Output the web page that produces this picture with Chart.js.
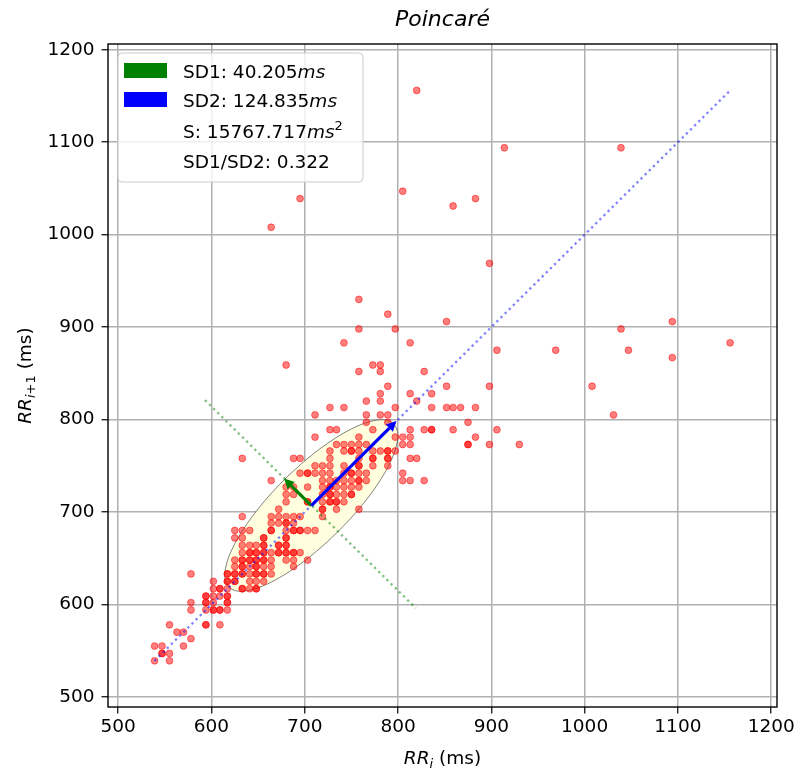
<!DOCTYPE html>
<html><head><meta charset="utf-8">
<script src="https://cdn.jsdelivr.net/npm/chart.js@4.4.1/dist/chart.umd.min.js"></script>
<style>html,body{margin:0;padding:0;background:#fff}#wrap{width:798px;height:770px}</style>
</head><body><div id="wrap"><canvas id="c" width="798" height="770"></canvas></div>
<script>
// RR_{i+1} value of each row of points (ms)
const rrNextRows = [1156,1094,1047,1039,1031,1008,969,930,914,906,898,883,875,867,859,852,836,828,820,813,805,797,789,781,773,766,758,750,742,734,727,719,711,703,695,688,680,672,664,656,648,641,633,625,617,609,602,594,578,570,563,555,547,539];
// RR_i values of the points found on each row (ms)
const rrCurrRows = [
 [820],
 [914,1039],
 [805],
 [695,883],
 [859],
 [664],
 [898],
 [758],
 [789],
 [852,1094],
 [758,797,1039],
 [742,813,1156],
 [906,969,1047],
 [1094],
 [680,773,781],
 [758,781,828],
 [789,852,898,1008],
 [781,813,836],
 [766,781,820],
 [727,742,797,836,852,859,867,883],
 [711,766,781,789,1031],
 [766,789,875],
 [727,734,773,813,828,836,836,859,906],
 [711,758,797,805,813,883],
 [734,742,750,758,766,805,813,875,875,898,930],
 [727,742,750,750,758,773,781,789,789,797],
 [633,688,695,727,758,773,773,789,789,813,820],
 [711,719,727,742,758,758,773,789],
 [695,703,703,711,719,727,742,750,750,758,766,805],
 [664,719,727,734,742,750,758,758,766,805,813,828],
 [680,688,703,719,727,727,734,742,750,758],
 [680,688,719,727,727,734,742,750,750],
 [680,703,703,719,727,727,734,734,742],
 [672,719,719,734,758],
 [633,664,672,680,688,695,719],
 [664,672,680,680,688],
 [625,633,641,664,664,680,688,688,695,695,703,711],
 [625,633,656,656,680,680],
 [633,641,648,656,656,672,672,680,680],
 [633,641,641,648,648,656,656,664,672,672,680,680,688,688,695],
 [625,633,633,641,641,648,648,656,656,664,680,688,703],
 [625,633,633,641,648,648,656,664,688],
 [578,617,617,625,625,633,633,641,648,648,656,656,664],
 [602,617,617,625,625,641,648,656],
 [602,609,609,617,633,633,641,648,648],
 [594,594,602,609,617,617],
 [578,594,594,602,617,617],
 [578,594,602,602,609,609,617],
 [555,594,594,609],
 [563,570],
 [578],
 [539,547,570],
 [547,547,555],
 [539,555]
];
const xTicks = [500,600,700,800,900,1000,1100,1200];
const yTicks = [500,600,700,800,900,1000,1100,1200];
const axisMin = 489.06, axisMax = 1206.25;
const rrMean = 707;
const sd1 = 40.205, sd2 = 124.835, areaS = 15767.717, sdRatio = 0.322;
const sd1LineX = [593, 819], sd1LineY = [821, 596];
const titleText = 'Poincaré';

const points = [];
rrNextRows.forEach((y, r) => rrCurrRows[r].forEach(x => points.push({x, y})));
const nnMin = Math.min(...points.map(p => p.x));
const nnMax = Math.max(...points.map(p => p.x));

const FONT = '"DejaVu Sans"';
function rich(ctx, parts, x, y, align) {
  let total = 0;
  parts.forEach(p => { ctx.font = (p.it ? 'italic ' : '') + p.s + 'px ' + FONT; p.w = ctx.measureText(p.t).width; total += p.w; });
  let cx = align === 'center' ? x - total / 2 : x;
  parts.forEach(p => { ctx.font = (p.it ? 'italic ' : '') + p.s + 'px ' + FONT; ctx.fillText(p.t, cx, y + (p.dy || 0)); cx += p.w; });
}
function arrow(ctx, x0, y0, x1, y1, color, ext) {
  const dx = x1 - x0, dy = y1 - y0, L = Math.hypot(dx, dy), ux = dx / L, uy = dy / L;
  const tx = x1 + ux * ext, ty = y1 + uy * ext;
  const hl = 10, hw = 5;
  const bx = tx - ux * hl, by = ty - uy * hl;
  ctx.save();
  ctx.strokeStyle = color; ctx.fillStyle = color; ctx.lineWidth = 3.2; ctx.lineCap = 'butt';
  ctx.beginPath(); ctx.moveTo(x0, y0); ctx.lineTo(bx, by); ctx.stroke();
  ctx.beginPath(); ctx.moveTo(tx, ty); ctx.lineTo(bx - uy * hw, by + ux * hw); ctx.lineTo(bx + uy * hw, by - ux * hw); ctx.closePath(); ctx.fill();
  ctx.restore();
}

const deco = {
  id: 'deco',
  beforeDatasetsDraw(chart) {
    const {ctx, chartArea: a, scales: {x, y}} = chart;
    ctx.save();
    ctx.beginPath(); ctx.rect(a.left, a.top, a.width, a.height); ctx.clip();
    const c = Math.SQRT1_2;
    ctx.beginPath();
    for (let i = 0; i <= 200; i++) {
      const t = i / 200 * Math.PI * 2;
      const vx = rrMean + sd2 * Math.cos(t) * c - sd1 * Math.sin(t) * c;
      const vy = rrMean + sd2 * Math.cos(t) * c + sd1 * Math.sin(t) * c;
      const px = x.getPixelForValue(vx), py = y.getPixelForValue(vy);
      if (i === 0) ctx.moveTo(px, py); else ctx.lineTo(px, py);
    }
    ctx.closePath();
    ctx.fillStyle = '#FFFFE0'; ctx.fill();
    ctx.strokeStyle = 'rgba(0,0,0,0.55)'; ctx.lineWidth = 0.9; ctx.stroke();
    ctx.restore();
  },
  afterDatasetsDraw(chart) {
    const {ctx, chartArea: a, scales: {x, y}} = chart;
    ctx.save();
    ctx.beginPath(); ctx.rect(a.left, a.top, a.width, a.height); ctx.clip();
    ctx.lineWidth = 2.3; ctx.setLineDash([2.3, 3.5]);
    ctx.strokeStyle = 'rgba(0,0,255,0.5)';
    ctx.beginPath(); ctx.moveTo(x.getPixelForValue(nnMin), y.getPixelForValue(nnMin)); ctx.lineTo(x.getPixelForValue(nnMax), y.getPixelForValue(nnMax)); ctx.stroke();
    ctx.strokeStyle = 'rgba(0,128,0,0.5)';
    ctx.beginPath(); ctx.moveTo(x.getPixelForValue(sd1LineX[0]), y.getPixelForValue(sd1LineY[0])); ctx.lineTo(x.getPixelForValue(sd1LineX[1]), y.getPixelForValue(sd1LineY[1])); ctx.stroke();
    ctx.setLineDash([]);
    const c = Math.SQRT1_2;
    const cx = x.getPixelForValue(rrMean), cy = y.getPixelForValue(rrMean);
    arrow(ctx, cx, cy, x.getPixelForValue(rrMean - sd1 * c), y.getPixelForValue(rrMean + sd1 * c), '#008000', 1);
    arrow(ctx, cx, cy, x.getPixelForValue(rrMean + sd2 * c), y.getPixelForValue(rrMean + sd2 * c), '#0000ff', 4);
    ctx.restore();
    // frame
    ctx.save();
    ctx.strokeStyle = '#000'; ctx.lineWidth = 1.4;
    ctx.strokeRect(a.left, a.top, a.width, a.height);
    ctx.restore();
    // legend
    ctx.save();
    const lx = 118, ly = 53, lw = 245, lh = 129, r = 4;
    ctx.beginPath();
    ctx.moveTo(lx + r, ly); ctx.lineTo(lx + lw - r, ly); ctx.quadraticCurveTo(lx + lw, ly, lx + lw, ly + r);
    ctx.lineTo(lx + lw, ly + lh - r); ctx.quadraticCurveTo(lx + lw, ly + lh, lx + lw - r, ly + lh);
    ctx.lineTo(lx + r, ly + lh); ctx.quadraticCurveTo(lx, ly + lh, lx, ly + lh - r);
    ctx.lineTo(lx, ly + r); ctx.quadraticCurveTo(lx, ly, lx + r, ly); ctx.closePath();
    ctx.fillStyle = 'rgba(255,255,255,0.8)'; ctx.fill();
    ctx.strokeStyle = '#cccccc'; ctx.lineWidth = 1; ctx.stroke();
    ctx.fillStyle = '#008000'; ctx.fillRect(124, 63, 43, 15);
    ctx.fillStyle = '#0000ff'; ctx.fillRect(124, 92, 43, 15);
    ctx.fillStyle = '#000'; ctx.textBaseline = 'alphabetic';
    const fs = 18.5;
    rich(ctx, [{t: 'SD1: ' + sd1.toFixed(3), s: fs}, {t: 'ms', s: fs, it: true}], 183, 77.5);
    rich(ctx, [{t: 'SD2: ' + sd2.toFixed(3), s: fs}, {t: 'ms', s: fs, it: true}], 183, 106.8);
    rich(ctx, [{t: 'S: ' + areaS.toFixed(3), s: fs}, {t: 'ms', s: fs, it: true}, {t: '2', s: 13, dy: -8}], 183, 137.5);
    rich(ctx, [{t: 'SD1/SD2: ' + sdRatio.toFixed(3), s: fs}], 183, 168.3);
    ctx.restore();
  },
  afterDraw(chart) {
    const {ctx, chartArea: a} = chart;
    ctx.save();
    ctx.fillStyle = '#000'; ctx.textBaseline = 'alphabetic';
    const mid = (a.left + a.right) / 2;
    rich(ctx, [{t: titleText, s: 22, it: true}], mid, 26, 'center');
    rich(ctx, [{t: 'RR', s: 18.5, it: true}, {t: 'i', s: 13, it: true, dy: 4}, {t: ' (ms)', s: 18.5}], mid, 764, 'center');
    ctx.translate(31, (a.top + a.bottom) / 2);
    ctx.rotate(-Math.PI / 2);
    rich(ctx, [{t: 'RR', s: 18.5, it: true}, {t: 'i', s: 13, it: true, dy: 4}, {t: '+1', s: 13, dy: 4}, {t: ' (ms)', s: 18.5}], 0, 0, 'center');
    ctx.restore();
  }
};

const tickFont = {family: 'DejaVu Sans', size: 18.5};
new Chart(document.getElementById('c'), {
  type: 'scatter',
  data: {datasets: [{
    data: points,
    pointRadius: 3.4, pointHoverRadius: 3.4,
    backgroundColor: 'rgba(255,0,0,0.5)', borderColor: 'rgba(255,0,0,0.5)', borderWidth: 1
  }]},
  options: {
    responsive: false, animation: false, devicePixelRatio: 1,
    layout: {padding: {top: 44, right: 21, left: 0, bottom: 0}},
    plugins: {legend: {display: false}, tooltip: {enabled: false}, title: {display: false}},
    scales: {
      x: {type: 'linear', min: axisMin, max: axisMax,
        afterBuildTicks: s => { s.ticks = xTicks.map(v => ({value: v})); },
        afterFit: s => { s.height = 63; },
        grid: {color: '#b0b0b0', lineWidth: 1.5, tickLength: 6.5, tickColor: '#000', tickWidth: 1.2},
        border: {display: false},
        ticks: {font: tickFont, color: '#000', padding: 3, maxRotation: 0, autoSkip: false, callback: v => String(v)}},
      y: {type: 'linear', min: axisMin, max: axisMax,
        afterBuildTicks: s => { s.ticks = yTicks.map(v => ({value: v})); },
        afterFit: s => { s.width = 108; },
        grid: {color: '#b0b0b0', lineWidth: 1.5, tickLength: 6.5, tickColor: '#000', tickWidth: 1.2},
        border: {display: false},
        ticks: {font: tickFont, color: '#000', padding: 7, autoSkip: false, callback: v => String(v)}}
    }
  },
  plugins: [deco]
});
</script>
</body></html>
